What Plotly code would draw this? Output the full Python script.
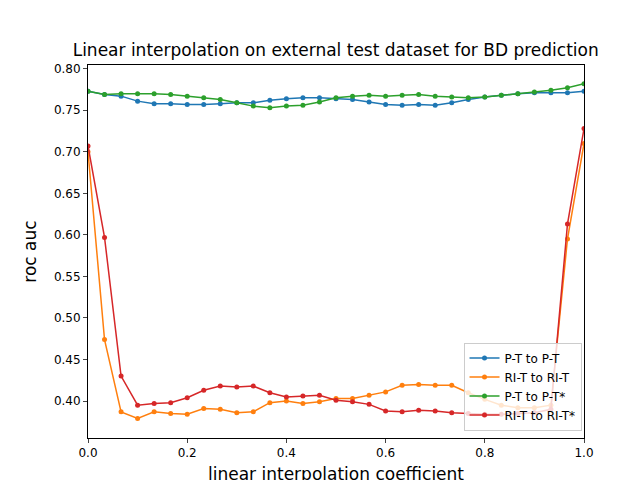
import plotly.graph_objects as go

coef = [i / 30 for i in range(31)]

pt_pt = [0.773, 0.769, 0.767, 0.761, 0.758, 0.758, 0.757, 0.757, 0.758, 0.759, 0.759,
         0.762, 0.764, 0.765, 0.765, 0.764, 0.763, 0.760, 0.757, 0.756, 0.757, 0.756,
         0.759, 0.763, 0.766, 0.768, 0.770, 0.771, 0.771, 0.771, 0.773]
rit_rit = [0.700, 0.474, 0.387, 0.379, 0.387, 0.385, 0.384, 0.391, 0.390, 0.386, 0.387,
           0.398, 0.400, 0.397, 0.399, 0.403, 0.403, 0.407, 0.411, 0.419, 0.420, 0.419,
           0.419, 0.410, 0.402, 0.395, 0.392, 0.392, 0.395, 0.595, 0.710]
pt_pts = [0.773, 0.769, 0.770, 0.770, 0.770, 0.769, 0.767, 0.765, 0.763, 0.759, 0.755,
          0.753, 0.755, 0.756, 0.760, 0.765, 0.767, 0.768, 0.767, 0.768, 0.769, 0.767,
          0.766, 0.765, 0.766, 0.768, 0.770, 0.772, 0.774, 0.777, 0.782]
rit_rits = [0.707, 0.597, 0.430, 0.395, 0.397, 0.398, 0.404, 0.413, 0.418, 0.417, 0.418,
            0.410, 0.405, 0.406, 0.407, 0.401, 0.399, 0.396, 0.388, 0.387, 0.389, 0.388,
            0.386, 0.385, 0.384, 0.384, 0.385, 0.386, 0.390, 0.613, 0.728]

series = [
    ("P-T to P-T", pt_pt, "#1f77b4"),
    ("RI-T to RI-T", rit_rit, "#ff7f0e"),
    ("P-T to P-T*", pt_pts, "#2ca02c"),
    ("RI-T to RI-T*", rit_rits, "#d62728"),
]

fig = go.Figure()
for name, vals, col in series:
    fig.add_trace(go.Scatter(x=coef, y=vals, mode="lines+markers", name=name,
                             line=dict(color=col, width=1.5),
                             marker=dict(color=col, size=5)))

axis = dict(showgrid=False, zeroline=False, showline=True, mirror=True,
            linecolor="black", linewidth=1, ticks="outside", ticklen=4,
            automargin=False, tickfont=dict(size=12, color="black"))
fig.update_layout(
    width=640, height=480,
    paper_bgcolor="white", plot_bgcolor="white",
    font=dict(family="DejaVu Sans", color="black"),
    margin=dict(l=80, r=64, t=57, b=50),
    title=dict(text="Linear interpolation on external test dataset for BD prediction",
               x=0.512, xanchor="center", y=0.912, yanchor="middle",
               font=dict(size=17)),
    xaxis=dict(axis, range=[0, 1], dtick=0.2, tickformat=".1f",
               title=dict(text="linear interpolation coefficient", font=dict(size=17), standoff=8)),
    yaxis=dict(axis, range=[0.3555, 0.8045], dtick=0.05, tickformat=".2f",
               title=dict(text="roc auc", font=dict(size=17), standoff=12)),
    legend=dict(x=0.995, y=0.02, xanchor="right", yanchor="bottom",
                bgcolor="rgba(255,255,255,0.8)", bordercolor="#cccccc", borderwidth=1,
                font=dict(size=12), tracegroupgap=0),
)

fig.write_html("out.html")
